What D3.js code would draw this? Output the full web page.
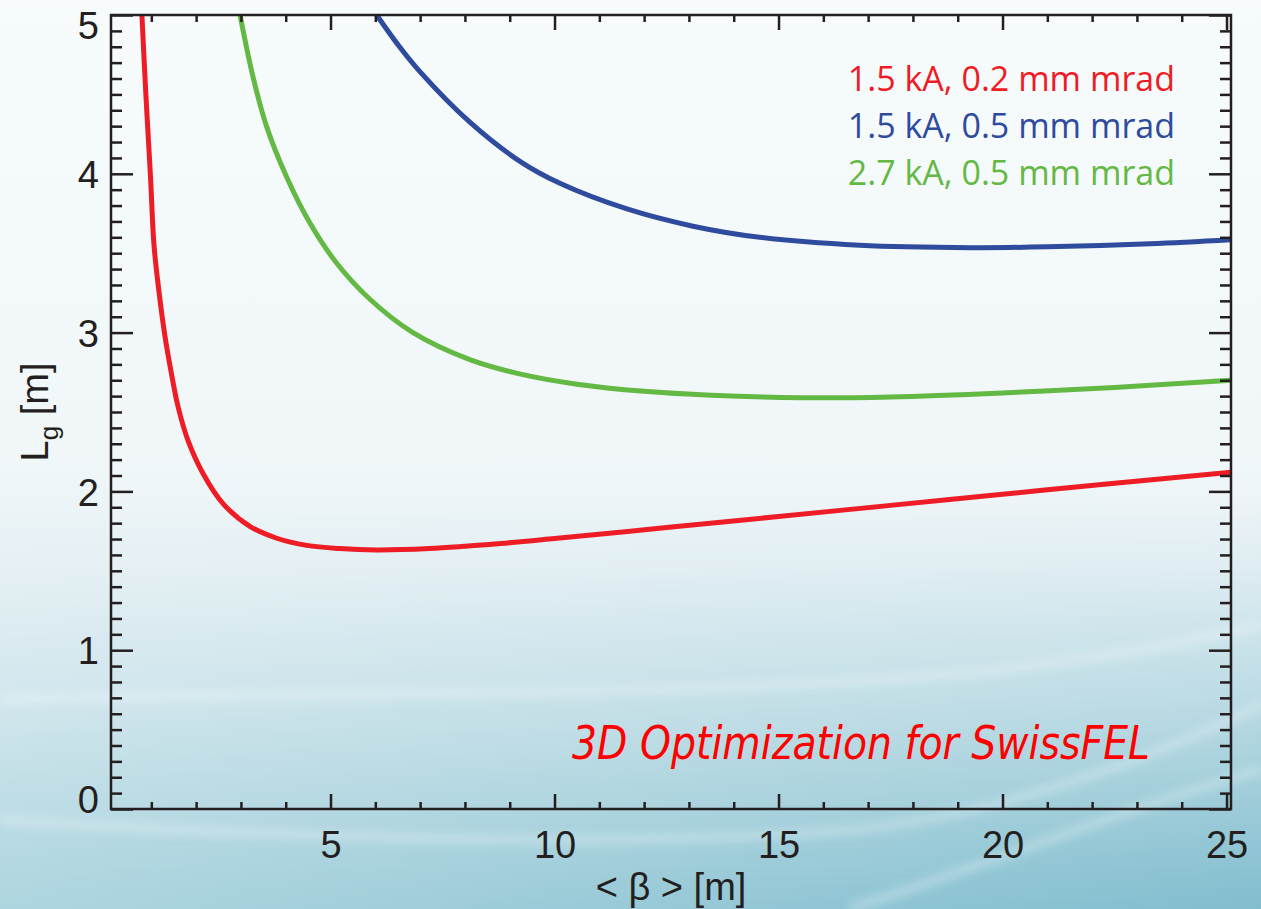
<!DOCTYPE html>
<html>
<head>
<meta charset="utf-8">
<script src="https://cdn.jsdelivr.net/npm/d3@7"></script>
<style>
  html, body { margin: 0; padding: 0; background: #f7fbfc; }
  svg { display: block; }
</style>
</head>
<body>
<svg id="chart" width="1261" height="909"></svg>
<script>
// values: beta [m] -> gain length Lg [m]
const betaRed  = [0.79, 0.88, 0.98, 1.06, 1.17, 1.30, 1.45, 1.60, 1.82, 2.16, 2.61, 3.20, 3.80, 4.47, 5.2, 6.03, 7.2, 8.8, 10, 12.5, 15, 17.5, 20, 22.5, 25.1];
const lgRed    = [5.0, 4.49, 3.99, 3.55, 3.26, 2.985, 2.74, 2.53, 2.32, 2.11, 1.92, 1.78, 1.705, 1.66, 1.64, 1.631, 1.64, 1.672, 1.703, 1.772, 1.842, 1.912, 1.982, 2.052, 2.12];

const betaBlue = [6.03, 6.5, 6.99, 8.11, 9.22, 10.12, 11.6, 13.09, 14.58, 16.81, 19.3, 21, 23.3, 25.1];
const lgBlue   = [5.0, 4.815, 4.645, 4.325, 4.08, 3.94, 3.78, 3.67, 3.60, 3.55, 3.535, 3.54, 3.56, 3.585];

const betaGreen = [2.98, 3.27, 3.57, 4.02, 4.54, 5.13, 5.88, 6.84, 8.11, 9.22, 10.5, 12, 13.5, 15.5, 17.5, 20, 22.5, 25.1];
const lgGreen   = [5.0, 4.61, 4.30, 3.98, 3.69, 3.44, 3.21, 3.00, 2.83, 2.74, 2.675, 2.63, 2.605, 2.59, 2.595, 2.62, 2.655, 2.70];

const legendLabels = ["1.5 kA, 0.2 mm mrad", "1.5 kA, 0.5 mm mrad", "2.7 kA, 0.5 mm mrad"];
const seriesColors = ["#ee1c25", "#2e4b9e", "#64b844"];

const xMajor = [5, 10, 15, 20, 25];
const xMinor = d3.range(1, 26).filter(v => v % 5 !== 0);
const yMajor = [0, 1, 2, 3, 4, 5];
const yMinor = d3.range(1, 50).filter(v => v % 10 !== 0).map(v => v / 10);

const svg = d3.select("#chart");
const W = 1261, H = 909;
const pLeft = 111, pRight = 1231, pTop = 15, pBottom = 809;

// background: pale at top, sea blue towards the bottom, darker to the right
const defs = svg.append("defs");
const g1 = defs.append("linearGradient").attr("id", "bgV").attr("x1", 0).attr("y1", 0).attr("x2", 0).attr("y2", 1);
[["0%", "#f7fbfc"], ["50%", "#f1f7f9"], ["62%", "#e6f1f5"], ["78%", "#cae3ea"], ["100%", "#94c8d6"]]
  .forEach(s => g1.append("stop").attr("offset", s[0]).attr("stop-color", s[1]));

const g2 = defs.append("linearGradient").attr("id", "bgH").attr("x1", 0).attr("y1", 0).attr("x2", 1).attr("y2", 0);
g2.append("stop").attr("offset", "0%").attr("stop-color", "#ffffff").attr("stop-opacity", 0.25);
g2.append("stop").attr("offset", "100%").attr("stop-color", "#4b9fb8").attr("stop-opacity", 0.25);

const gm = defs.append("linearGradient").attr("id", "fadeV").attr("x1", 0).attr("y1", 0).attr("x2", 0).attr("y2", 1);
gm.append("stop").attr("offset", "55%").attr("stop-color", "#fff").attr("stop-opacity", 0);
gm.append("stop").attr("offset", "100%").attr("stop-color", "#fff").attr("stop-opacity", 1);
defs.append("mask").attr("id", "lowMask")
  .append("rect").attr("width", W).attr("height", H).attr("fill", "url(#fadeV)");

defs.append("filter").attr("id", "soft")
  .append("feGaussianBlur").attr("stdDeviation", 5);

svg.append("rect").attr("width", W).attr("height", H).attr("fill", "url(#bgV)");
svg.append("rect").attr("width", W).attr("height", H).attr("fill", "url(#bgH)").attr("mask", "url(#lowMask)");

// faint light streaks in the lower part
const swoosh = [
  "M0,820 C250,835 600,850 850,830 C1000,815 1150,760 1261,705",
  "M0,700 C300,690 700,700 1000,670 C1120,655 1200,640 1261,625",
  "M850,909 C1000,860 1150,800 1261,770"
];
svg.append("g").attr("filter", "url(#soft)")
  .selectAll("path").data(swoosh).join("path")
  .attr("d", d => d).attr("fill", "none")
  .attr("stroke", "#ffffff").attr("stroke-opacity", 0.3).attr("stroke-width", 8);

const x = d3.scaleLinear().domain([0.1, 25.1]).range([pLeft, pRight]);
const y = d3.scaleLinear().domain([0, 5]).range([pBottom, pTop]);

// curves
const line = d3.line().x(d => x(d[0])).y(d => y(d[1])).curve(d3.curveCatmullRom.alpha(0.5));
const series = [
  d3.zip(betaRed, lgRed),
  d3.zip(betaBlue, lgBlue),
  d3.zip(betaGreen, lgGreen)
];
svg.append("g").selectAll("path").data(series).join("path")
  .attr("d", line)
  .attr("fill", "none")
  .attr("stroke", (d, i) => seriesColors[i])
  .attr("stroke-width", 5)
  .attr("stroke-linejoin", "round");

// axes: ticks point inward on all four sides
const tickFont = "'Liberation Sans', Arial, Helvetica, sans-serif";
function styleAxis(g) {
  g.select(".domain").remove();
  g.selectAll(".tick line").attr("stroke", "#231f20").attr("stroke-width", 2.5);
  g.selectAll(".tick text").attr("fill", "#231f20").style("font-family", tickFont).style("font-size", "38px");
}

svg.append("g").attr("transform", `translate(0,${pBottom})`)
  .call(d3.axisBottom(x).tickValues(xMinor).tickSize(-7).tickFormat("")).call(styleAxis);
svg.append("g").attr("transform", `translate(0,${pBottom})`)
  .call(d3.axisBottom(x).tickValues(xMajor).tickSize(-15).tickPadding(22).tickFormat(d3.format("d"))).call(styleAxis);
svg.append("g").attr("transform", `translate(0,${pTop})`)
  .call(d3.axisTop(x).tickValues(xMinor).tickSize(-7).tickFormat("")).call(styleAxis);
svg.append("g").attr("transform", `translate(0,${pTop})`)
  .call(d3.axisTop(x).tickValues(xMajor).tickSize(-15).tickFormat("")).call(styleAxis);

svg.append("g").attr("transform", `translate(${pLeft},0)`)
  .call(d3.axisLeft(y).tickValues(yMinor).tickSize(-11).tickFormat("")).call(styleAxis);
const yAx = svg.append("g").attr("transform", `translate(${pLeft},0)`)
  .call(d3.axisLeft(y).tickValues(yMajor).tickSize(-22).tickPadding(12).tickFormat(d3.format("d"))).call(styleAxis);
yAx.selectAll(".tick text").attr("dy", d => d === 0 ? "0.1em" : d === 5 ? "0.62em" : "0.36em");
svg.append("g").attr("transform", `translate(${pRight},0)`)
  .call(d3.axisRight(y).tickValues(yMinor).tickSize(-11).tickFormat("")).call(styleAxis);
svg.append("g").attr("transform", `translate(${pRight},0)`)
  .call(d3.axisRight(y).tickValues(yMajor).tickSize(-22).tickFormat("")).call(styleAxis);

// frame
svg.append("rect")
  .attr("x", pLeft).attr("y", pTop)
  .attr("width", pRight - pLeft).attr("height", pBottom - pTop)
  .attr("fill", "none").attr("stroke", "#231f20").attr("stroke-width", 2.5);

// axis titles
const yTitle = svg.append("text")
  .attr("transform", `translate(48,${(pTop + pBottom) / 2}) rotate(-90)`)
  .attr("text-anchor", "middle")
  .attr("fill", "#231f20")
  .style("font-family", tickFont).style("font-size", "38px");
yTitle.append("tspan").text("L");
yTitle.append("tspan").attr("dy", 10).style("font-size", "26px").text("g");
yTitle.append("tspan").attr("dy", -10).text(" [m]");

svg.append("text")
  .attr("x", (pLeft + pRight) / 2).attr("y", 900)
  .attr("text-anchor", "middle")
  .attr("fill", "#231f20")
  .style("font-family", tickFont).style("font-size", "38px")
  .text("< \u03b2 > [m]");

// legend
svg.append("g").selectAll("text").data(legendLabels).join("text")
  .attr("x", 1175)
  .attr("y", (d, i) => 91 + i * 47)
  .attr("text-anchor", "end")
  .attr("fill", (d, i) => seriesColors[i])
  .style("font-family", "'Open Sans', 'Noto Sans', sans-serif")
  .style("font-size", "34px")
  .text(d => d);

// note
svg.append("text")
  .attr("x", 572).attr("y", 759)
  .attr("textLength", 578).attr("lengthAdjust", "spacingAndGlyphs")
  .attr("fill", "#ff0000")
  .style("font-family", "'Liberation Sans Narrow', 'DejaVu Sans Condensed', sans-serif")
  .style("font-style", "italic")
  .style("font-size", "47px")
  .text("3D Optimization for SwissFEL");
</script>
</body>
</html>
